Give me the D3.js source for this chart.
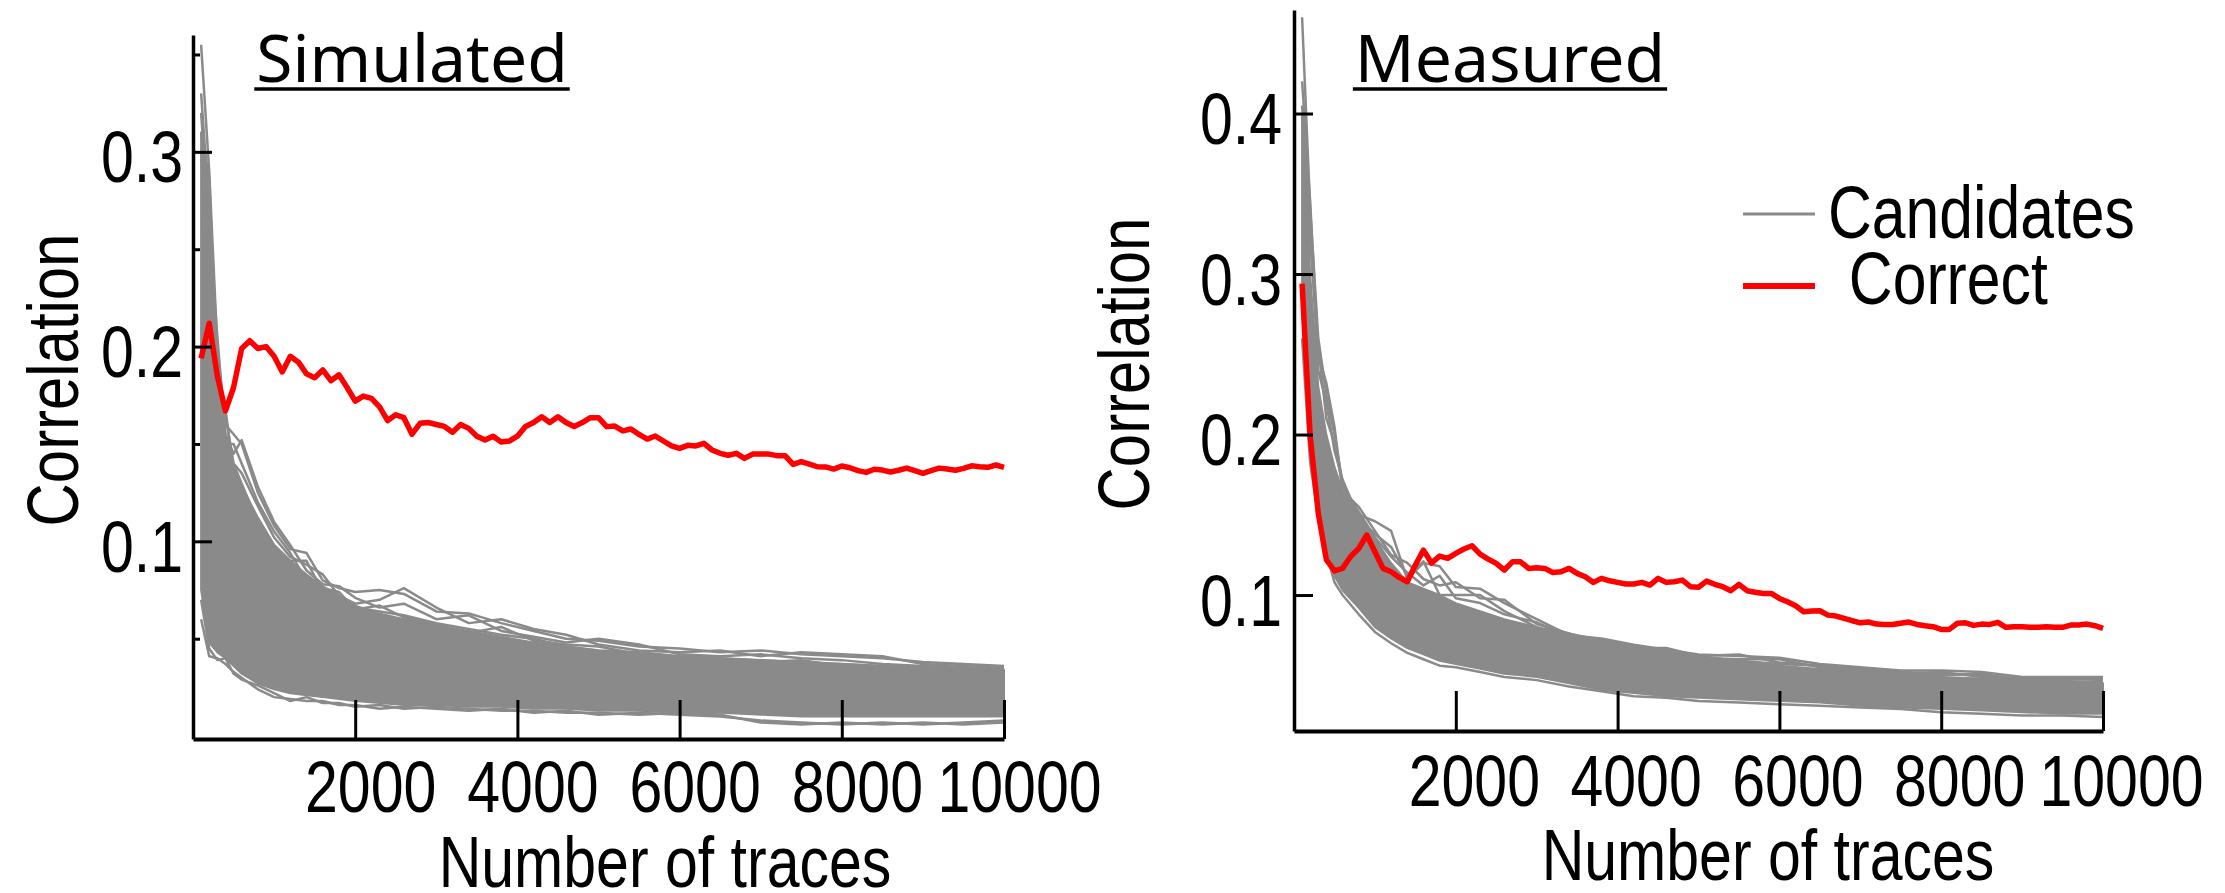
<!DOCTYPE html>
<html><head><meta charset="utf-8">
<script src="https://cdn.jsdelivr.net/npm/d3@7"></script>
<style>body{margin:0;background:#fff} svg{display:block}</style>
</head><body><svg id="chart" width="2225" height="893"></svg>
<script>
// ---------------- DATA ----------------
const traces = d3.range(100, 10001, 100);            // x positions of the "Correct" curves
const xTickValues = [2000, 4000, 6000, 8000, 10000];
const simYMajor = [0.1, 0.2, 0.3];
const simYMinor = [0.05, 0.15, 0.25, 0.35];
const measYMajor = [0.1, 0.2, 0.3, 0.4];

const simCorrect = [
.194,.212,.185,.167,.179,.199,.203,.199,.200,.195,
.187,.195,.192,.186,.184,.188,.1825,.1855,.179,.172,
.1746,.1734,.169,.162,.165,.1635,.155,.1606,.161,.160,
.159,.156,.160,.158,.154,.152,.154,.151,.1515,.154,
.159,.161,.164,.161,.164,.161,.159,.161,.1635,.1635,
.1589,.1592,.1567,.1577,.1549,.1525,.1541,.1515,.149,.1477,
.1493,.149,.1503,.1469,.1452,.1442,.1452,.1426,.1448,.1448,
.1448,.144,.144,.1395,.1409,.1397,.1383,.1382,.1371,.1387,
.1378,.1363,.1354,.137,.1366,.1356,.1365,.1376,.1363,.1349,
.1363,.1376,.1371,.1365,.1375,.1388,.1383,.138,.1392,.138];

const measCorrect = [
.294,.199,.151,.122,.115,.1166,.124,.129,.1374,.127,
.1166,.1145,.111,.1083,.1187,.128,.120,.1243,.1229,.126,
.1287,.1307,.1255,.1224,.1197,.1156,.1207,.1207,.1166,.117,
.1166,.1141,.1145,.1166,.1135,.1114,.1079,.1104,.1089,.1079,
.1069,.1069,.1079,.1062,.1104,.1079,.1083,.1093,.1052,.1049,
.1087,.1067,.1052,.1027,.1067,.1027,.1017,.101,.101,.0979,
.0958,.0933,.0896,.09,.0902,.0875,.0869,.0855,.084,.0827,
.0832,.0819,.0817,.0817,.0824,.0832,.0817,.0809,.0803,.0786,
.0786,.0824,.0827,.0811,.0819,.0817,.083,.0799,.0803,.0803,
.0799,.0799,.0803,.0799,.0799,.0813,.0813,.0819,.0809,.0792];

// x grid for the candidate bundle
const candT = [100,200,300,400,500,600,800,1000,1200,1400,1600,1800,2000,2300,2600,3000,3400,3800,4200,4600,5000,5500,6000,6500,7000,7500,8000,8500,9000,9500,10000];

// Simulated: dense core of the candidate bundle
const simCoreHigh = [.31,.26,.19,.155,.14,.13,.11,.098,.09,.083,.077,.072,.067,.063,.060,.057,.054,.051,.048,.046,.044,.042,.041,.040,.039,.038,.037,.036,.035,.034,.034];
const simCoreLow  = [.075,.048,.043,.040,.036,.032,.027,.024,.022,.021,.020,.019,.018,.017,.016,.016,.015,.015,.014,.014,.013,.013,.012,.012,.011,.010,.010,.010,.010,.010,.010];
// Simulated: individual candidate traces at the edges of the bundle
const simCand1 = [.355,.29,.20,.16,.155,.150,.125,.108,.096,.094,.080,.076,.074,.075,.073,.064,.063,.058,.054,.050,.049,.046,.045,.043,.044,.042,.041,.040,.038,.037,.036];
const simCand2 = [.33,.27,.19,.165,.14,.135,.118,.102,.092,.088,.083,.072,.068,.070,.076,.066,.058,.060,.055,.052,.047,.044,.043,.044,.041,.043,.042,.041,.037,.036,.035];
const simCand3 = [.32,.26,.205,.155,.145,.152,.128,.11,.098,.085,.078,.077,.071,.066,.068,.060,.062,.054,.051,.048,.050,.047,.042,.041,.042,.040,.039,.037,.036,.035,.034];
const simCand4 = [.31,.287,.18,.168,.135,.128,.112,.098,.09,.09,.074,.069,.066,.064,.062,.058,.055,.052,.050,.046,.044,.043,.041,.040,.039,.038,.037,.036,.035,.034,.033];
const simCand5 = [.30,.24,.19,.15,.15,.14,.12,.105,.094,.08,.076,.074,.065,.067,.061,.057,.053,.056,.049,.047,.046,.042,.040,.039,.038,.039,.036,.035,.034,.033,.033];
const simCand6 = [.06,.041,.04,.037,.033,.03,.024,.02,.019,.018,.018,.016,.016,.014,.015,.014,.013,.014,.012,.013,.011,.012,.011,.010,.008,.007,.006,.007,.006,.007,.008];
const simCand7 = [.07,.045,.039,.04,.032,.029,.026,.022,.018,.02,.017,.017,.015,.016,.014,.015,.014,.013,.013,.012,.012,.011,.012,.011,.007,.006,.007,.006,.007,.006,.007];

// Measured: dense core
const measCoreHigh = [.40,.30,.23,.20,.18,.165,.15,.135,.12,.108,.104,.10,.095,.09,.085,.08,.076,.072,.068,.065,.062,.059,.056,.054,.052,.05,.049,.048,.047,.046,.045];
const measCoreLow  = [.28,.19,.152,.13,.112,.103,.092,.080,.073,.067,.063,.059,.057,.054,.051,.049,.045,.041,.039,.037,.036,.035,.034,.033,.031,.030,.029,.028,.027,.026,.026];
// Measured: individual candidate traces
const measCand1 = [.46,.34,.26,.225,.2,.17,.15,.146,.14,.11,.12,.118,.105,.104,.095,.085,.075,.073,.069,.066,.063,.062,.061,.057,.055,.053,.053,.052,.049,.049,.049];
const measCand2 = [.42,.345,.25,.232,.205,.165,.155,.14,.125,.12,.11,.106,.108,.098,.097,.082,.076,.07,.067,.067,.062,.063,.058,.056,.054,.052,.051,.05,.048,.048,.047];
const measCand3 = [.405,.33,.24,.22,.19,.172,.148,.138,.13,.112,.121,.10,.1,.1,.09,.08,.073,.071,.068,.064,.061,.06,.06,.055,.053,.051,.052,.049,.048,.047,.048];
const measCand4 = [.40,.32,.255,.21,.195,.168,.152,.136,.124,.114,.106,.112,.098,.095,.088,.083,.074,.072,.066,.065,.06,.059,.057,.056,.052,.05,.05,.051,.047,.046,.046];
const measCand5 = [.26,.182,.149,.126,.108,.1,.088,.077,.07,.064,.06,.056,.055,.052,.049,.047,.043,.04,.037,.036,.034,.033,.032,.031,.03,.029,.027,.026,.025,.025,.024];

const titles = ["Simulated", "Measured"];
const legendLabels = ["Candidates", " Correct"];
const xLabel = "Number of traces";
const yLabel = "Correlation";

// ---------------- RENDER ----------------
const GRAY = "#8a8a8a", RED = "#ff0000";
const FAM = '"Liberation Sans",Arial,sans-serif';
const SX = 0.82;   // condensed look of the reference lettering

const svg = d3.select('#chart');

function label(parent, x, y, s, size, anchor, rot) {
  const g = parent.append('g').attr('transform', `translate(${x},${y})` + (rot ? ` rotate(${rot})` : '') + ` scale(${SX},1)`);
  g.append('text').attr('font-family', FAM).attr('font-size', size).attr('text-anchor', anchor).attr('fill', '#000').text(s);
  return g;
}

function panel(cfg) {
  const g = svg.append('g');
  const x = d3.scaleLinear().domain([0, 10000]).range(cfg.xr);
  const y = d3.scaleLinear().domain(cfg.yd).range(cfg.yr);

  const clipId = 'clip' + cfg.id;
  svg.append('defs').append('clipPath').attr('id', clipId).append('rect')
    .attr('x', cfg.xr[0]).attr('y', cfg.yr[1]).attr('width', cfg.xr[1] - cfg.xr[0] + 2).attr('height', cfg.yr[0] - cfg.yr[1]);
  const plot = g.append('g').attr('clip-path', `url(#${clipId})`);

  // candidate core band
  const band = candT.map((t, i) => ({t, hi: cfg.coreHigh[i], lo: cfg.coreLow[i]}));
  plot.append('path').datum(band)
    .attr('d', d3.area().x(d => x(d.t)).y0(d => y(d.lo)).y1(d => y(d.hi)))
    .attr('fill', GRAY).attr('stroke', GRAY).attr('stroke-width', 2).attr('stroke-linejoin', 'round');
  // individual candidate traces
  const line = d3.line().x(d => x(d[0])).y(d => y(d[1]));
  cfg.cands.forEach(c => {
    plot.append('path').datum(candT.map((t, i) => [t, c[i]]))
      .attr('d', line).attr('fill', 'none').attr('stroke', GRAY).attr('stroke-width', 2.5).attr('stroke-linejoin', 'round');
  });
  // correct key
  plot.append('path').datum(traces.map((t, i) => [t, cfg.correct[i]]))
    .attr('d', line).attr('fill', 'none').attr('stroke', RED).attr('stroke-width', 5.5)
    .attr('stroke-linejoin', 'round').attr('stroke-linecap', 'butt');

  // x axis
  const xa = g.append('g').attr('transform', `translate(0,${cfg.yr[0]})`)
    .call(d3.axisBottom(x).tickValues(xTickValues).tickSize(-cfg.xTick).tickSizeOuter(0).tickFormat(d3.format('d')));
  xa.select('.domain').attr('stroke', '#000').attr('stroke-width', 4);
  xa.selectAll('.tick line').attr('stroke', '#000').attr('stroke-width', 3);
  xa.selectAll('.tick text').attr('y', 0).attr('dy', 0)
    .attr('transform', `translate(${cfg.xLabDx},${cfg.xLabDy}) scale(${SX},1)`)
    .attr('font-family', FAM).attr('font-size', 72).attr('fill', '#000').attr('text-anchor', 'middle');

  // y axis
  const ya = g.append('g').attr('transform', `translate(${cfg.xr[0]},0)`)
    .call(d3.axisLeft(y).tickValues(cfg.yMajor).tickSize(-19).tickSizeOuter(0).tickFormat(d3.format('.1f')));
  ya.select('.domain').attr('stroke', '#000').attr('stroke-width', 3.5);
  ya.selectAll('.tick line').attr('stroke', '#000').attr('stroke-width', 3);
  ya.selectAll('.tick text').attr('x', 0).attr('dy', 0)
    .attr('transform', `translate(${-cfg.yLabGap},30) scale(${SX},1)`)
    .attr('font-family', FAM).attr('font-size', 72).attr('fill', '#000').attr('text-anchor', 'end');
  if (cfg.yMinor.length) {
    const ym = g.append('g').attr('transform', `translate(${cfg.xr[0]},0)`)
      .call(d3.axisLeft(y).tickValues(cfg.yMinor).tickSize(-7).tickSizeOuter(0).tickFormat(''));
    ym.select('.domain').remove();
    ym.selectAll('.tick line').attr('stroke', '#000').attr('stroke-width', 3);
  }

  // axis titles
  label(g, cfg.xTitle[0], cfg.xTitle[1], xLabel, 72, 'middle');
  label(g, cfg.yTitle[0], cfg.yTitle[1], yLabel, 73, 'middle', -90);

  // panel title (underlined)
  const tt = g.append('text').attr('x', cfg.title[0]).attr('y', cfg.title[1])
    .attr('font-family', '"Noto Sans","DejaVu Sans",sans-serif').attr('font-size', 66)
    .attr('text-anchor', 'middle').attr('fill', '#000').text(cfg.titleText);
  const w = tt.node().getComputedTextLength();
  g.append('line').attr('x1', cfg.title[0] - w / 2 - 2).attr('x2', cfg.title[0] + w / 2 + 2)
    .attr('y1', cfg.title[1] + 7).attr('y2', cfg.title[1] + 7).attr('stroke', '#000').attr('stroke-width', 3.5);
  return {x, y};
}

panel({
  id: 'sim', xr: [193, 1004], yd: [-0.0015, 0.36], yr: [739, 35],
  yMajor: simYMajor, yMinor: simYMinor, xTick: 39, xLabDx: 15, xLabDy: 73, yLabGap: 10,
  coreHigh: simCoreHigh, coreLow: simCoreLow,
  cands: [simCand1, simCand2, simCand3, simCand4, simCand5, simCand6, simCand7],
  correct: simCorrect, xTitle: [665, 887], yTitle: [78, 380],
  title: [412, 82], titleText: titles[0]
});
panel({
  id: 'meas', xr: [1294, 2103], yd: [0.0153, 0.4645], yr: [731, 10],
  yMajor: measYMajor, yMinor: [], xTick: 40, xLabDx: 18, xLabDy: 75, yLabGap: 12,
  coreHigh: measCoreHigh, coreLow: measCoreLow,
  cands: [measCand1, measCand2, measCand3, measCand4, measCand5],
  correct: measCorrect, xTitle: [1768, 880], yTitle: [1149, 364],
  title: [1510, 82], titleText: titles[1]
});

// legend
const lg = svg.append('g');
lg.append('line').attr('x1', 1743).attr('x2', 1815).attr('y1', 214).attr('y2', 214).attr('stroke', GRAY).attr('stroke-width', 3);
lg.append('line').attr('x1', 1743).attr('x2', 1815).attr('y1', 286).attr('y2', 286).attr('stroke', RED).attr('stroke-width', 6);
label(lg, 1828, 238, legendLabels[0], 74, 'start');
label(lg, 1832, 304, legendLabels[1], 74, 'start').select('text').attr('xml:space', 'preserve').style('white-space', 'pre');
</script>
</body></html>
